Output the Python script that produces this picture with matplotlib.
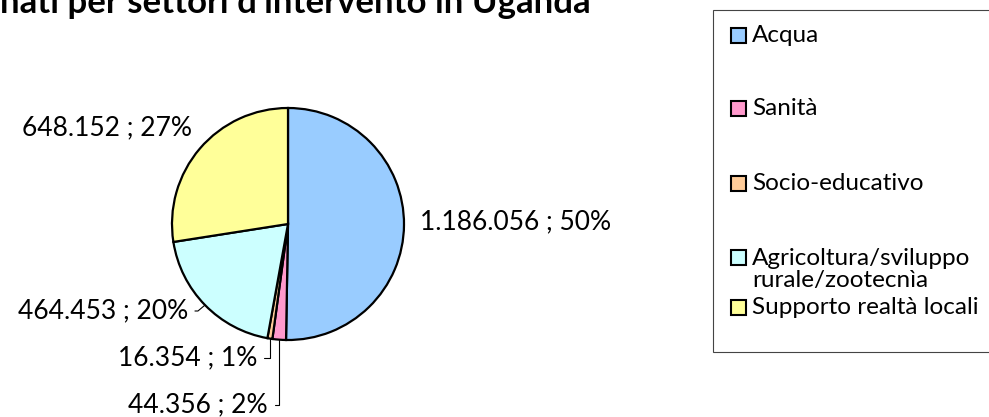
import numpy as np
import matplotlib.pyplot as plt
from matplotlib.patches import Rectangle

plt.rcParams['font.family'] = ['Lato', 'DejaVu Sans']

W, H = 989, 417

sectors = ['Acqua', 'Sanità', 'Socio-educativo',
           'Agricoltura/sviluppo\nrurale/zootecnìa', 'Supporto realtà locali']
amounts = [1186056, 44356, 16354, 464453, 648152]
colors = ['#99CCFF', '#FF99CC', '#FFCC99', '#CCFFFF', '#FFFF99']

title = "nati per settori d'intervento in Uganda"


def fmt_label(v, total):
    num = f'{v:,}'.replace(',', '.')
    return f'{num} ; {round(v / total * 100):.0f}%'


fig = plt.figure(figsize=(W / 100, H / 100), dpi=100)
ax = fig.add_axes([0, 0, 1, 1])

# pie centred at (288, 224) px from the top-left, radius 116 px
cx, cy, r = 288, H - 224, 116
wedges, _ = ax.pie(amounts, colors=colors, startangle=90, counterclock=False,
                   radius=r, center=(cx, cy), frame=True,
                   wedgeprops=dict(edgecolor='black', linewidth=1.6))
ax.set_xlim(0, W)
ax.set_ylim(0, H)
ax.axis('off')

total = sum(amounts)
labels = [fmt_label(v, total) for v in amounts]

# label anchor (px from top-left), alignment and leader style
label_pos = [(420, 222, 'left', None),
             (268, 405, 'right', 'angle,angleA=0,angleB=90,rad=0'),
             (257, 358, 'right', 'angle,angleA=0,angleB=90,rad=0'),
             (188, 311, 'right', 'angle,angleA=0,angleB=40,rad=0'),
             (192, 128, 'right', None)]

for w, lab, (tx, ty, ha, conn) in zip(wedges, labels, label_pos):
    if conn is None:
        ax.text(tx, H - ty, lab, ha=ha, va='center', fontsize=19)
        continue
    ang = np.deg2rad((w.theta1 + w.theta2) / 2)
    px, py = cx + r * np.cos(ang), cy + r * np.sin(ang)
    ax.annotate(lab, xy=(px, py), xytext=(tx, H - ty), ha=ha, va='center',
                fontsize=19,
                arrowprops=dict(arrowstyle='-', color='black', lw=0.8,
                                connectionstyle=conn, shrinkA=3, shrinkB=0))

fig.text(0, 1 - 13 / H, title, ha='left', va='baseline', fontsize=25,
         fontweight='bold')

# legend box, open on the right
ax.add_patch(Rectangle((713, H - 352), 300, 342, facecolor='white',
                       edgecolor='#444444', linewidth=0.8, clip_on=False))
legend_y = [35, 108, 183, 257, 307]
for lab, col, ly in zip(sectors, colors, legend_y):
    ax.add_patch(Rectangle((731, H - ly - 7.5), 15, 15, facecolor=col,
                           edgecolor='black', linewidth=1.5))
    n_lines = lab.count('\n') + 1
    ax.text(752, H - ly - 12.5 * (n_lines - 1), lab, ha='left', va='center',
            fontsize=17.5, linespacing=1.05)

fig.savefig('out.png', dpi=100)
